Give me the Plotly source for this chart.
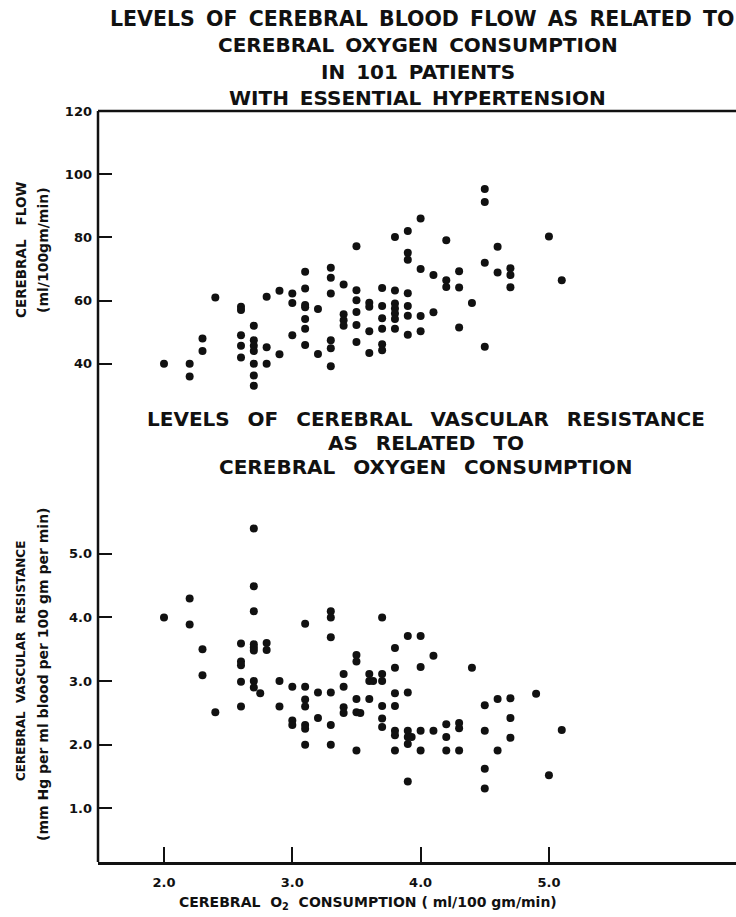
import plotly.graph_objects as go

# ---------------- data ----------------
flow_x = [2.0, 2.2, 2.2, 2.3, 2.3, 2.4,
          2.6, 2.6, 2.6, 2.6, 2.6,
          2.7, 2.7, 2.7, 2.7, 2.7, 2.7, 2.7,
          2.8, 2.8, 2.8, 2.9, 2.9, 3.0, 3.0, 3.0,
          3.1, 3.1, 3.1, 3.1, 3.1, 3.1, 3.1,
          3.2, 3.2,
          3.3, 3.3, 3.3, 3.3, 3.3, 3.3,
          3.4, 3.4, 3.4, 3.4,
          3.5, 3.5, 3.5, 3.5, 3.5, 3.5,
          3.6, 3.6, 3.6, 3.6,
          3.7, 3.7, 3.7, 3.7, 3.7, 3.7,
          3.8, 3.8, 3.8, 3.8, 3.8, 3.8, 3.8,
          3.9, 3.9, 3.9, 3.9, 3.9, 3.9, 3.9,
          4.0, 4.0, 4.0, 4.0,
          4.1, 4.1,
          4.2, 4.2, 4.2,
          4.3, 4.3, 4.3,
          4.4,
          4.5, 4.5, 4.5, 4.5,
          4.6, 4.6,
          4.7, 4.7, 4.7,
          5.0, 5.1]
flow_y = [40, 40, 36, 48, 44, 61,
          58, 57, 49, 45.7, 42,
          52, 47.4, 45.7, 44, 40, 36.3, 33,
          61.2, 45.2, 40, 63.1, 43, 62.2, 59.2, 49,
          69.1, 63.8, 58.6, 57.9, 54.2, 51.1, 45.9,
          57.3, 43.1,
          70.4, 67.2, 62.2, 47.4, 44.9, 39.2,
          65.1, 55.7, 53.8, 52,
          77.2, 63.3, 60.1, 56.4, 52.3, 46.9,
          59.3, 58, 50.3, 43.4,
          64, 58.3, 54.4, 51.1, 46.2, 44.3,
          80.1, 63.2, 59.1, 57.5, 55.9, 54.2, 51.1,
          82, 75.1, 72.9, 62.3, 58.3, 55.2, 49.2,
          86, 70, 55.1, 50.3,
          68.1, 56.3,
          79.1, 66.4, 64.3,
          69.3, 64.1, 51.5,
          59.2,
          95.3, 91.2, 72, 45.4,
          77, 68.9,
          70.2, 68.1, 64.2,
          80.3, 66.4]

res_x = [2.0, 2.2, 2.2, 2.3, 2.3, 2.4,
         2.6, 2.6, 2.6, 2.6, 2.6,
         2.7, 2.7, 2.7, 2.7, 2.7, 2.7, 2.7, 2.7, 2.75,
         2.8, 2.8, 2.9, 2.9, 3.0, 3.0, 3.0,
         3.1, 3.1, 3.1, 3.1, 3.1, 3.1, 3.1,
         3.2, 3.2,
         3.3, 3.3, 3.3, 3.3, 3.3, 3.3,
         3.4, 3.4, 3.4, 3.4,
         3.5, 3.5, 3.5, 3.5, 3.5, 3.53,
         3.6, 3.6, 3.6, 3.63,
         3.7, 3.7, 3.7, 3.7, 3.7, 3.7,
         3.8, 3.8, 3.8, 3.8, 3.8, 3.8, 3.8,
         3.9, 3.9, 3.9, 3.9, 3.9, 3.9, 3.93,
         4.0, 4.0, 4.0, 4.0,
         4.1, 4.1,
         4.2, 4.2, 4.2,
         4.3, 4.3, 4.3,
         4.4,
         4.5, 4.5, 4.5, 4.5,
         4.6, 4.6,
         4.7, 4.7, 4.7,
         4.9, 5.0, 5.1]
res_y = [4.0, 4.30, 3.89, 3.5, 3.09, 2.51,
         3.59, 3.31, 3.25, 2.99, 2.60,
         5.40, 4.49, 4.10, 3.58, 3.53, 3.48, 3.0, 2.9, 2.81,
         3.6, 3.49, 3.0, 2.6, 2.91, 2.38, 2.31,
         3.9, 2.91, 2.71, 2.6, 2.31, 2.25, 2.0,
         2.82, 2.42,
         4.10, 4.0, 3.69, 2.82, 2.31, 2.0,
         3.11, 2.91, 2.59, 2.50,
         3.41, 3.31, 2.72, 2.51, 1.91, 2.50,
         3.11, 3.0, 2.72, 3.0,
         4.0, 3.11, 3.0, 2.61, 2.41, 2.28,
         3.52, 3.21, 2.81, 2.61, 2.22, 2.15, 1.91,
         3.71, 2.82, 2.22, 2.12, 2.01, 1.42, 2.12,
         3.71, 3.22, 2.22, 1.91,
         3.40, 2.22,
         2.32, 2.12, 1.91,
         2.34, 2.26, 1.91,
         3.21,
         2.62, 2.22, 1.62, 1.31,
         2.72, 1.91,
         2.73, 2.42, 2.11,
         2.80, 1.52, 2.23]

x_ticks = [2.0, 3.0, 4.0, 5.0]
x_ticktext = ["2.0", "3.0", "4.0", "5.0"]
flow_ticks = [40, 60, 80, 100, 120]
flow_ticktext = ["40", "60", "80", "100", "120"]
res_ticks = [1.0, 2.0, 3.0, 4.0, 5.0]
res_ticktext = ["1.0", "2.0", "3.0", "4.0", "5.0"]

G1 = "\u00a0\u2009"          # word gap, top title
G2 = "\u00a0\u00a0\u2009"    # word gap, middle title
title_top = [G1.join(["LEVELS", "OF", "CEREBRAL", "BLOOD", "FLOW", "AS", "RELATED", "TO"]),
             G1.join(["CEREBRAL", "OXYGEN", "CONSUMPTION"]),
             G1.join(["IN", "101", "PATIENTS"]),
             G1.join(["WITH", "ESSENTIAL", "HYPERTENSION"])]
title_mid = [G2.join(["LEVELS", "OF", "CEREBRAL", "VASCULAR", "RESISTANCE"]),
             G2.join(["AS", "RELATED", "TO"]),
             G2.join(["CEREBRAL", "OXYGEN", "CONSUMPTION"])]

# ---------------- layout geometry ----------------
W, H = 736, 917
L, T, B = 98, 111, 862
PW, PH = W - L, B - T

def px(x):
    return (x - L) / PW

def py(y):
    return (B - y) / PH

FONT = "DejaVu Sans"
INK = "#111111"

fig = go.Figure()
mk = dict(color=INK, size=8, line=dict(width=0))
fig.add_trace(go.Scatter(x=flow_x, y=flow_y, mode="markers", marker=mk,
                         xaxis="x", yaxis="y", showlegend=False))
fig.add_trace(go.Scatter(x=res_x, y=res_y, mode="markers", marker=mk,
                         xaxis="x", yaxis="y2", showlegend=False))

tickfont = dict(family=FONT, size=13, color=INK, weight="bold")

fig.update_layout(
    width=W, height=H,
    margin=dict(l=L, r=0, t=T, b=H - B),
    paper_bgcolor="white", plot_bgcolor="white",
    xaxis=dict(range=[1.4856, 6.458], anchor="y2", showgrid=False, zeroline=False,
               showline=True, linewidth=2.5, linecolor=INK,
               ticks="inside", ticklen=15, tickwidth=2, tickcolor=INK,
               tickvals=x_ticks, ticktext=x_ticktext, tickfont=tickfont,
               ticklabelstandoff=7),
    yaxis=dict(domain=[0.615, 1.0], range=[28.48, 120], showgrid=False, zeroline=False,
               showline=False, ticks="inside", ticklen=14, tickwidth=2, tickcolor=INK,
               tickvals=flow_ticks, ticktext=flow_ticktext, tickfont=tickfont,
               ticklabelstandoff=5),
    yaxis2=dict(domain=[0.0, 0.4554], range=[0.1557, 5.533], showgrid=False, zeroline=False,
                showline=False, ticks="inside", ticklen=14, tickwidth=2, tickcolor=INK,
                tickvals=res_ticks, ticktext=res_ticktext, tickfont=tickfont,
                ticklabelstandoff=5),
    shapes=[
        dict(type="line", xref="paper", yref="paper", x0=0, x1=0, y0=0, y1=1,
             line=dict(color=INK, width=2.5)),
        dict(type="line", xref="paper", yref="paper", x0=0, x1=1, y0=1, y1=1,
             line=dict(color=INK, width=2.5)),
    ],
)

ann = []
def add_text(text, x, y, size, angle=0, xanchor="center"):
    ann.append(dict(text=text, x=px(x), y=py(y), xref="paper", yref="paper",
                    showarrow=False, textangle=angle, xanchor=xanchor, yanchor="middle",
                    font=dict(family=FONT, size=size, color=INK, weight="bold")))

add_text(title_top[0], 422, 19, 20.5)
for txt, yy in zip(title_top[1:], [45, 72, 98]):
    add_text(txt, 418, yy, 20)
for txt, yy in zip(title_mid, [419, 443, 467]):
    add_text(txt, 426, yy, 20)

add_text("CEREBRAL\u00a0\u00a0\u00a0FLOW", 21, 250, 13.5, angle=-90)
add_text("(ml/100gm/min)", 43, 250, 14, angle=-90)
add_text("CEREBRAL\u00a0\u00a0VASCULAR\u00a0\u00a0RESISTANCE", 21, 661, 12, angle=-90)
add_text("(mm Hg per ml blood per 100 gm per min)", 43, 674, 14, angle=-90)
add_text("CEREBRAL\u00a0\u00a0O<sub>2</sub>\u00a0\u00a0CONSUMPTION\u00a0( ml/100 gm/min)", 368, 903, 14)

fig.update_layout(annotations=ann)
fig.write_html("out.html", config={"displayModeBar": False},
               post_script="document.body.style.margin='0';")
